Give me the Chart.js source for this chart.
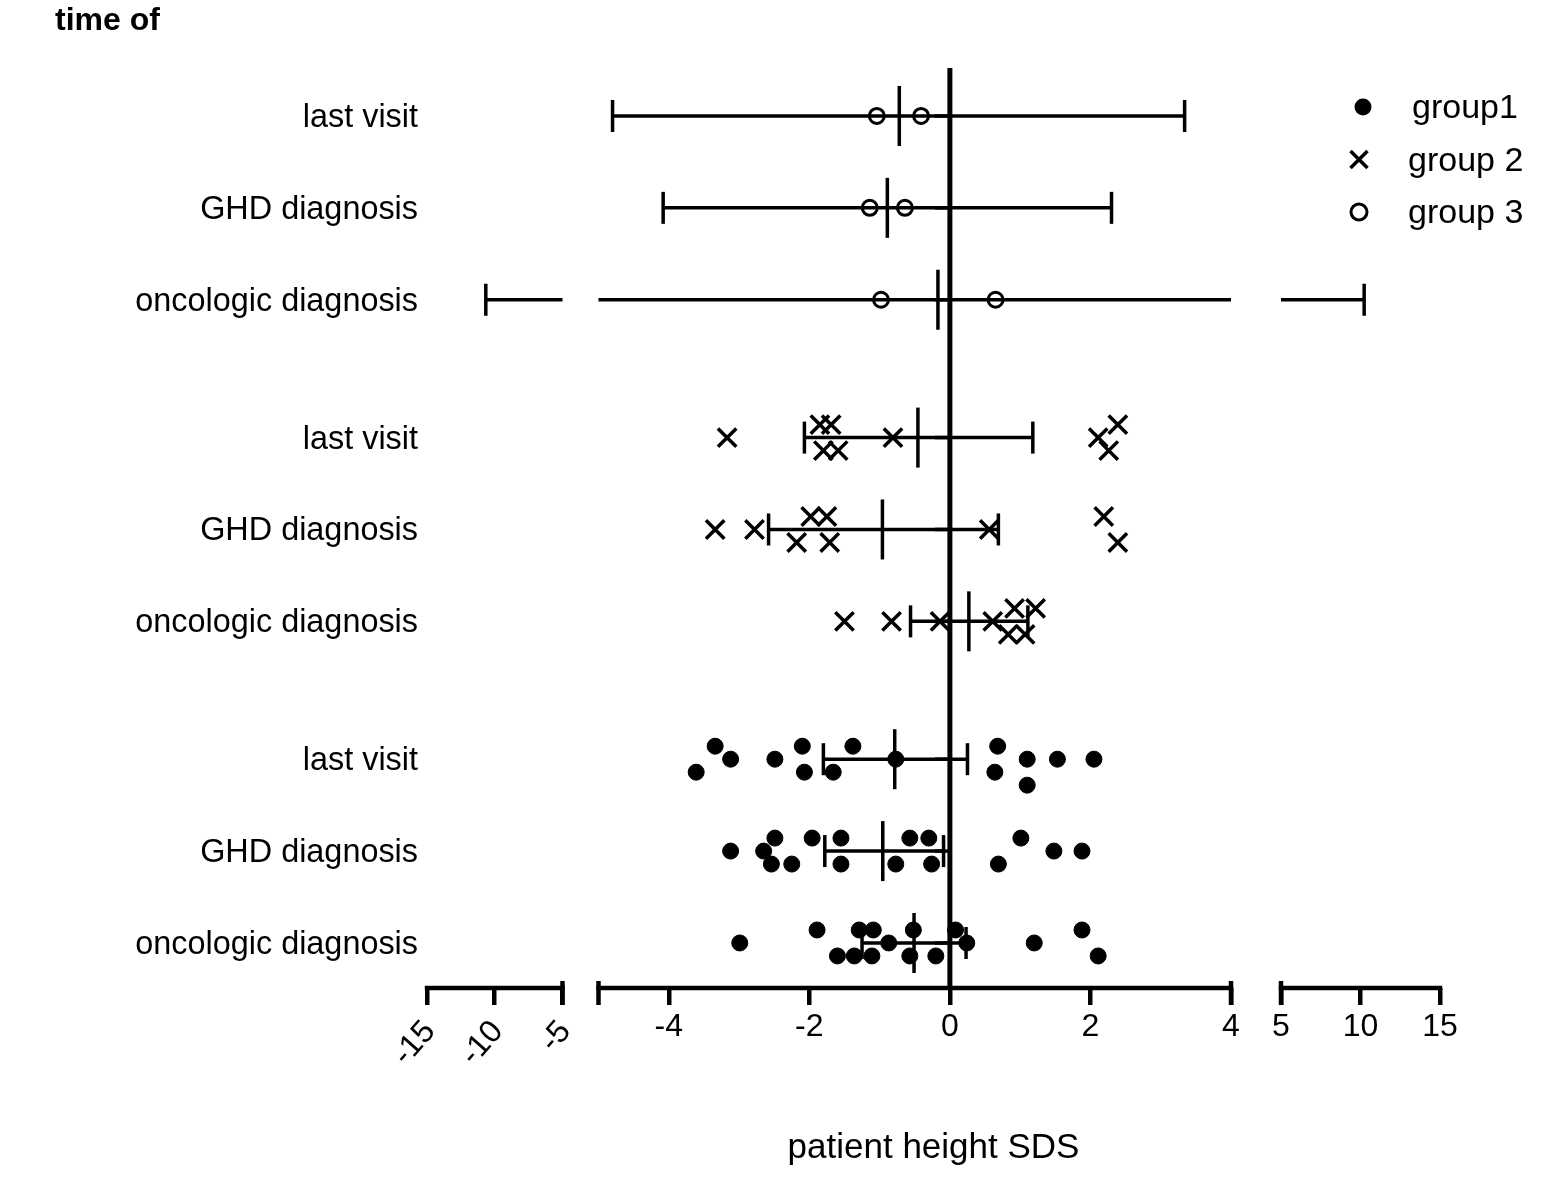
<!DOCTYPE html>
<html>
<head>
<meta charset="utf-8">
<script src="https://cdn.jsdelivr.net/npm/chart.js@4/dist/chart.umd.min.js"></script>
<style>
  html, body { margin: 0; padding: 0; background: #fff; }
  #wrap { width: 1552px; height: 1182px; position: relative; }
</style>
</head>
<body>
<div id="wrap"><canvas id="c"></canvas></div>
<script>
// ---------------- data ----------------
const rowLabels = ['last visit', 'GHD diagnosis', 'oncologic diagnosis',
                   'last visit', 'GHD diagnosis', 'oncologic diagnosis',
                   'last visit', 'GHD diagnosis', 'oncologic diagnosis'];
const rowPositions = [0, 1, 2, 3.5, 4.5, 5.5, 7, 8, 9];
const groupNames = ['group1', 'group 2', 'group 3'];
const xTickValues = [-15, -10, -5, -4, -2, 0, 2, 4, 5, 10, 15];
const rotatedTickValues = [-15, -10, -5];

// group 3 (open circles)
const g3LastVisitX = [-1.04, -0.41];
const g3LastVisitLane = [0, 0];
const g3GHDX = [-1.14, -0.64];
const g3GHDLane = [0, 0];
const g3OncX = [-0.98, 0.65];
const g3OncLane = [0, 0];

// group 2 (crosses)
const g2LastVisitX = [-3.17, -1.85, -1.69, -1.80, -1.59, -0.81, 2.11, 2.39, 2.26];
const g2LastVisitLane = [0, -1, -1, 1, 1, 0, 0, -1, 1];
const g2GHDX = [-3.34, -2.78, -1.98, -1.75, -2.18, -1.71, 0.56, 2.19, 2.39];
const g2GHDLane = [0, 0, -1, -1, 1, 1, 0, -1, 1];
const g2OncX = [-1.50, -0.83, -0.14, 0.61, 0.92, 1.22, 0.83, 1.07];
const g2OncLane = [0, 0, 0, 0, -1, -1, 1, 1];

// group 1 (filled circles)
const g1LastVisitX = [-3.34, -3.12, -3.61, -2.49, -2.10, -2.07, -1.66, -1.38, -0.77, 0.68, 0.64, 1.10, 1.10, 1.53, 2.05];
const g1LastVisitLane = [-1, 0, 1, 0, -1, 1, 1, -1, 0, -1, 1, 0, 2, 0, 0];
const g1GHDX = [-3.12, -2.49, -2.65, -2.54, -2.25, -1.96, -1.55, -1.55, -0.77, -0.57, -0.30, -0.26, 1.01, 0.69, 1.48, 1.88];
const g1GHDLane = [0, -1, 0, 1, 1, -1, -1, 1, 1, -1, -1, 1, -1, 1, 0, 0];
const g1OncX = [-2.99, -1.89, -1.29, -1.09, -0.52, 0.08, -0.87, 0.24, 1.20, 1.88, -1.60, -1.36, -1.11, -0.57, -0.20, 2.11];
const g1OncLane = [0, -1, -1, -1, -1, -1, 0, 0, 0, -1, 1, 1, 1, 1, 1, 1];

// mean and error bar limits per row (top to bottom)
const errMean = [-0.72, -0.89, -0.17, -0.455, -0.96, 0.27, -0.785, -0.955, -0.51];
const errLow  = [-4.80, -4.08, -10.66, -2.07, -2.58, -0.56, -1.80, -1.78, -1.25];
const errHigh = [3.34, 2.30, 10.23, 1.18, 0.69, 1.11, 0.25, -0.09, 0.23];

// ---------------- layout / style ----------------
const FONT = "'Liberation Sans', Arial, sans-serif";
const laneStep = 0.1413;          // vertical jitter step (row units)
const xSegments = [               // broken x axis: value range -> fraction of plot width
  { from: -15, to: -5, d0: 0.0,     d1: 0.13376 },
  { from: -5,  to: 4,  d0: 0.16930, d1: 0.79368 },
  { from: 5,   to: 15, d0: 0.84304, d1: 1.0 }
];

function valueToDecimal(v) {
  const [L, M, R] = xSegments;
  if (v <= L.to) return L.d0 + (v - L.from) / (L.to - L.from) * (L.d1 - L.d0);
  if (v <= M.to) return M.d0 + (v - M.from) / (M.to - M.from) * (M.d1 - M.d0);
  if (v < R.from) return M.d1 + (v - M.to) / (R.from - M.to) * (R.d0 - M.d1);
  return R.d0 + (v - R.from) / (R.to - R.from) * (R.d1 - R.d0);
}
function decimalToValue(d) {
  const [L, M, R] = xSegments;
  if (d <= L.d1) return L.from + (d - L.d0) / (L.d1 - L.d0) * (L.to - L.from);
  if (d < M.d0) return L.to;
  if (d <= M.d1) return M.from + (d - M.d0) / (M.d1 - M.d0) * (M.to - M.from);
  if (d < R.d0) return M.to + (d - M.d1) / (R.d0 - M.d1) * (R.from - M.to);
  return R.from + (d - R.d0) / (R.d1 - R.d0) * (R.to - R.from);
}

class BrokenScale extends Chart.LinearScale {
  getPixelForValue(value) {
    if (value === null || value === undefined || isNaN(value)) return NaN;
    return this.getPixelForDecimal(valueToDecimal(value));
  }
  getValueForPixel(pixel) {
    return decimalToValue(this.getDecimalForPixel(pixel));
  }
}
BrokenScale.id = 'broken';
BrokenScale.defaults = Chart.LinearScale.defaults;
Chart.register(BrokenScale);

function points(pos, xs, lanes) {
  return xs.map((x, i) => ({ x: x, y: pos + lanes[i] * laneStep }));
}

const group1Data = [].concat(
  points(rowPositions[6], g1LastVisitX, g1LastVisitLane),
  points(rowPositions[7], g1GHDX, g1GHDLane),
  points(rowPositions[8], g1OncX, g1OncLane));
const group2Data = [].concat(
  points(rowPositions[3], g2LastVisitX, g2LastVisitLane),
  points(rowPositions[4], g2GHDX, g2GHDLane),
  points(rowPositions[5], g2OncX, g2OncLane));
const group3Data = [].concat(
  points(rowPositions[0], g3LastVisitX, g3LastVisitLane),
  points(rowPositions[1], g3GHDX, g3GHDLane),
  points(rowPositions[2], g3OncX, g3OncLane));

function line(ctx, x1, y1, x2, y2) {
  ctx.beginPath(); ctx.moveTo(x1, y1); ctx.lineTo(x2, y2); ctx.stroke();
}

const customDraw = {
  id: 'customDraw',
  afterDatasetsDraw(chart) {
    const { ctx, chartArea, scales: { x, y } } = chart;
    ctx.save();
    ctx.strokeStyle = '#000';
    ctx.lineCap = 'butt';
    // error bars
    ctx.lineWidth = 3.5;
    rowPositions.forEach((pos, i) => {
      const py = y.getPixelForValue(pos);
      const pl = x.getPixelForValue(errLow[i]);
      const ph = x.getPixelForValue(errHigh[i]);
      const pm = x.getPixelForValue(errMean[i]);
      xSegments.forEach(seg => {
        const a = Math.max(pl, x.getPixelForDecimal(seg.d0));
        const b = Math.min(ph, x.getPixelForDecimal(seg.d1));
        if (b > a) line(ctx, a, py, b, py);
      });
      line(ctx, pl, py - 16, pl, py + 16);
      line(ctx, ph, py - 16, ph, py + 16);
      line(ctx, pm, py - 30, pm, py + 30);
    });
    // vertical axis at x = 0 with left ticks
    const x0 = x.getPixelForValue(0);
    ctx.lineWidth = 5;
    line(ctx, x0, chartArea.top, x0, chartArea.bottom);
    ctx.lineWidth = 3.5;
    rowPositions.forEach(pos => {
      const py = y.getPixelForValue(pos);
      line(ctx, x0 - 15, py, x0, py);
    });
    ctx.restore();
  },
  afterDraw(chart) {
    const { ctx, chartArea, scales: { x } } = chart;
    const yb = chartArea.bottom;
    ctx.save();
    ctx.strokeStyle = '#000';
    ctx.fillStyle = '#000';
    // segmented x axis line
    ctx.lineWidth = 4.5;
    xSegments.forEach(seg => {
      line(ctx, x.getPixelForDecimal(seg.d0) - 2.2, yb, x.getPixelForDecimal(seg.d1) + 2.2, yb);
    });
    // break marks
    [xSegments[0].d1, xSegments[1].d0, xSegments[1].d1, xSegments[2].d0].forEach(d => {
      const px = x.getPixelForDecimal(d);
      line(ctx, px, yb - 7, px, yb + 17);
    });
    // rotated tick labels of the left segment
    ctx.font = '32px ' + FONT;
    ctx.textAlign = 'right';
    ctx.textBaseline = 'middle';
    rotatedTickValues.forEach(v => {
      const px = x.getPixelForValue(v);
      ctx.save();
      ctx.translate(px + 3, yb + 38);
      ctx.rotate(-Math.PI * 0.27);
      ctx.fillText(String(v), 0, 0);
      ctx.restore();
    });
    // legend
    const lx = 1359, ly0 = 107, lstep = 52.5;
    ctx.font = '34px ' + FONT;
    ctx.textAlign = 'left';
    ctx.textBaseline = 'middle';
    groupNames.forEach((name, i) => {
      const cy = ly0 + i * lstep;
      if (i === 0) {
        ctx.beginPath(); ctx.arc(lx + 4, cy, 8.5, 0, Math.PI * 2); ctx.fill();
      } else if (i === 1) {
        ctx.lineWidth = 3.5;
        line(ctx, lx - 8.5, cy - 8.5, lx + 8.5, cy + 8.5);
        line(ctx, lx - 8.5, cy + 8.5, lx + 8.5, cy - 8.5);
      } else {
        ctx.lineWidth = 3;
        ctx.beginPath(); ctx.arc(lx, cy, 8, 0, Math.PI * 2); ctx.stroke();
      }
      ctx.fillText(name, i === 0 ? 1412 : 1408, cy + 2);
    });
    ctx.restore();
  }
};

Chart.defaults.font.family = FONT;
Chart.defaults.color = '#000';

new Chart(document.getElementById('c'), {
  type: 'scatter',
  data: {
    datasets: [
      { label: groupNames[0], data: group1Data, pointStyle: 'circle', pointRadius: 8,
        backgroundColor: '#000', borderColor: '#000', borderWidth: 1 },
      { label: groupNames[1], data: group2Data, pointStyle: 'crossRot', pointRadius: 13,
        backgroundColor: '#000', borderColor: '#000', borderWidth: 3.5 },
      { label: groupNames[2], data: group3Data, pointStyle: 'circle', pointRadius: 7.5,
        backgroundColor: 'rgba(0,0,0,0)', borderColor: '#000', borderWidth: 3 }
    ]
  },
  options: {
    responsive: true,
    maintainAspectRatio: false,
    animation: false,
    events: [],
    layout: { padding: { left: 55, right: 112, top: 0, bottom: 0 } },
    plugins: {
      legend: { display: false },
      tooltip: { enabled: false },
      title: { display: true, text: 'time of', align: 'start', color: '#000',
               font: { size: 32, weight: 'bold', family: FONT }, padding: { top: 2, bottom: 27.6 } }
    },
    scales: {
      x: {
        type: 'broken', min: -15, max: 15,
        afterBuildTicks: s => { s.ticks = xTickValues.map(v => ({ value: v })); },
        afterFit: s => { s.height = 194; },
        border: { display: false },
        grid: { display: true, drawOnChartArea: false, drawTicks: true, tickLength: 17,
                lineWidth: 4.5, color: '#000' },
        ticks: { autoSkip: false, maxRotation: 0, minRotation: 0, padding: 3, color: '#000',
                 font: { size: 32, family: FONT },
                 callback: v => rotatedTickValues.includes(v) ? '' : String(v) },
        title: { display: true, text: 'patient height SDS', color: '#000',
                 font: { size: 35, family: FONT }, padding: { top: 0, bottom: 13 } }
      },
      y: {
        type: 'linear', reverse: true, min: -0.522, max: 9.49,
        afterBuildTicks: s => { s.ticks = rowPositions.map(v => ({ value: v })); },
        afterFit: s => { s.width = 372; },
        border: { display: false },
        grid: { display: false, drawTicks: false },
        ticks: { autoSkip: false, padding: 9, labelOffset: 2, color: '#000',
                 font: { size: 32.4, family: FONT },
                 callback: v => rowLabels[rowPositions.indexOf(v)] }
      }
    }
  },
  plugins: [customDraw]
});
</script>
</body>
</html>
